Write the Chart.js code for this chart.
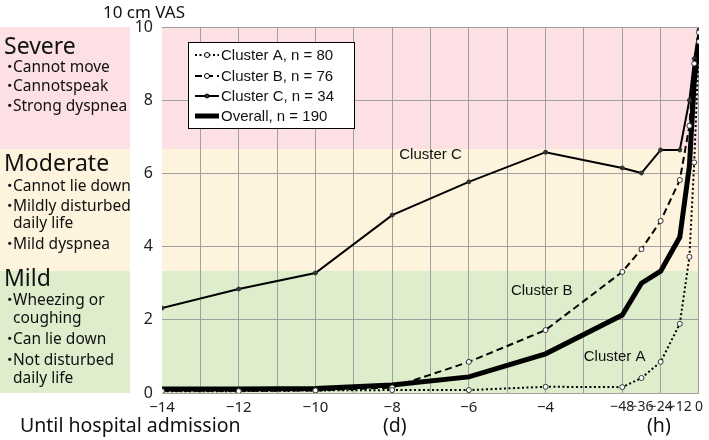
<!DOCTYPE html>
<html>
<head>
<meta charset="utf-8">
<script src="https://cdn.jsdelivr.net/npm/chart.js@4/dist/chart.umd.min.js"></script>
<style>
  html, body { margin: 0; padding: 0; background: #fff; }
  #wrap { position: relative; width: 709px; height: 440px; overflow: hidden; }
  #c { position: absolute; left: 0; top: 0; }
  .t { position: absolute; white-space: nowrap; font-family: "Noto Sans", "Noto Sans CJK JP", sans-serif; color: #111; line-height: 1; }
  .h { font-size: 23px; }
  .i { font-size: 15.5px; }
  .ax { font-size: 17px; }
  .ax2 { font-size: 19.5px; }
  .dot { font-family: "Noto Sans CJK JP", sans-serif; display: inline-block; width: 11px; margin-left: -3px; }
</style>
</head>
<body>
<div id="wrap">
  <canvas id="c" width="709" height="440"></canvas>
</div>
<script>
// ---- data ----
const xDays = [-14, -12, -10, -8, -6, -4];          // days before admission
const xHours = [-48, -36, -24, -12, -6, -3, 0];     // hours before admission
const clusterA = [0.05, 0.05, 0.07, 0.08, 0.08, 0.17, 0.16, 0.41, 0.85, 1.89, 3.72, 6.3, 9.6];
const clusterB = [0.06, 0.06, 0.07, 0.15, 0.85, 1.72, 3.31, 3.93, 4.70, 5.82, 7.3, 9.0, 9.85];
const clusterC = [2.32, 2.84, 3.28, 4.86, 5.77, 6.58, 6.15, 6.01, 6.64, 6.64, 8.0, 9.13, 9.92];
const overall  = [0.11, 0.11, 0.12, 0.22, 0.44, 1.07, 2.13, 3.0, 3.33, 4.26, 6.2, 8.5, 9.7];
const seriesNames = ["Cluster A, n = 80", "Cluster B, n = 76", "Cluster C, n = 34", "Overall, n = 190"];
const dayTickLabels = [-14, -12, -10, -8, -6, -4];
const hourTickLabels = [-48, -36, -24, -12, 0];
const yTicks = [0, 2, 4, 6, 8, 10];
const bandEdges = [0, 10/3, 20/3, 10];
const bandColors = ["#deedcc", "#fef3dc", "#fde0e4"];
const panelText = [
  { head: "Severe", items: [["Cannot move"], ["Cannotspeak"], ["Strong dyspnea"]] },
  { head: "Moderate", items: [["Cannot lie down"], ["Mildly disturbed", "daily life"], ["Mild dyspnea"]] },
  { head: "Mild", items: [["Wheezing or", "coughing"], ["Can lie down"], ["Not  disturbed", "daily life"]] }
];

// x positions in days (hours converted)
const xPos = xDays.concat(xHours.map(h => h / 24));
const toPts = arr => arr.map((v, i) => ({ x: xPos[i], y: v }));

// ---- left panel html ----
const wrap = document.getElementById('wrap');
function addText(txt, cls, left, top) {
  const d = document.createElement('div');
  d.className = 't ' + cls;
  d.style.left = left + 'px';
  d.style.top = top + 'px';
  d.innerHTML = txt;
  wrap.appendChild(d);
}
const headTops = [34, 151, 266];
const lineTops = [[58, 77, 97], [177, 197, 215, 235], [291, 310, 330, 351, 370]];
panelText.forEach((sec, si) => {
  addText(sec.head, 'h', 4, headTops[si]);
  let li = 0;
  sec.items.forEach(it => {
    it.forEach((ln, k) => {
      const txt = (k === 0 ? '<span class="dot">・</span>' : '<span class="dot"></span>') + ln;
      addText(txt, 'i', 5, lineTops[si][li]);
      li++;
    });
  });
});
addText("10 cm VAS", 'ax', 103, 3);
addText("Until hospital admission", 'ax2', 20, 415);
addText("(d)", 'ax2', 383, 415);
addText("(h)", 'ax2', 647, 415);

// ---- plugins ----
const bgPlugin = {
  id: 'bands',
  beforeDraw(chart) {
    const { ctx, chartArea: a, scales: { y } } = chart;
    ctx.save();
    ctx.fillStyle = '#fff';
    ctx.fillRect(0, 0, chart.width, chart.height);
    for (let i = 0; i < 3; i++) {
      const y0 = y.getPixelForValue(bandEdges[i]);
      const y1 = y.getPixelForValue(bandEdges[i + 1]);
      ctx.fillStyle = bandColors[i];
      ctx.fillRect(a.left, y1, a.right - a.left, y0 - y1);
      ctx.fillRect(0, y1, 130, y0 - y1);
    }
    ctx.restore();
  },
  afterDraw(chart) {
    const { ctx, scales: { x, y } } = chart;
    ctx.save();
    ctx.font = '15px "Liberation Sans", Arial, sans-serif';
    ctx.fillStyle = '#111';
    ctx.textBaseline = 'middle';
    ctx.textAlign = 'center';
    ctx.fillText('Cluster C', x.getPixelForValue(-7.0), y.getPixelForValue(6.5));
    ctx.fillText('Cluster B', x.getPixelForValue(-4.1), y.getPixelForValue(2.8));
    ctx.fillText('Cluster A', x.getPixelForValue(-2.2), y.getPixelForValue(0.98));
    // legend
    const lx = 188, ly = 42, lw = 166, lh = 86;
    ctx.fillStyle = '#fff';
    ctx.fillRect(lx, ly, lw, lh);
    ctx.strokeStyle = '#000';
    ctx.lineWidth = 1;
    ctx.strokeRect(lx + 0.5, ly + 0.5, lw, lh);
    const rows = [55, 76, 96, 116];
    chart.data.datasets.forEach((ds, i) => {
      const ry = rows[i];
      ctx.save();
      ctx.strokeStyle = '#000';
      ctx.lineWidth = ds.borderWidth;
      ctx.setLineDash(ds.borderDash || []);
      ctx.beginPath();
      ctx.moveTo(195, ry);
      ctx.lineTo(219, ry);
      ctx.stroke();
      ctx.setLineDash([]);
      if (ds.pointRadius > 0) {
        ctx.beginPath();
        ctx.arc(207, ry, ds.pointRadius, 0, Math.PI * 2);
        ctx.fillStyle = ds.pointBackgroundColor;
        ctx.fill();
        ctx.lineWidth = 1;
        ctx.stroke();
      }
      ctx.restore();
      ctx.fillStyle = '#111';
      ctx.textAlign = 'left';
      ctx.fillText(ds.label, 221, ry + 1);
    });
    ctx.restore();
  }
};

const tickVals = [];
for (let d = -14; d <= 0; d++) tickVals.push(d);
tickVals.push(-1.5, -0.5);
tickVals.sort((a, b) => a - b);

function xLabel(v) {
  if (dayTickLabels.includes(v)) return '\u2212' + Math.abs(v);
  if (v >= -2) {
    const h = Math.round(v * 24);
    if (hourTickLabels.includes(h)) return h === 0 ? '0' : '\u2212' + Math.abs(h);
  }
  return '';
}

new Chart(document.getElementById('c'), {
  type: 'line',
  data: {
    datasets: [
      { label: seriesNames[0], data: toPts(clusterA), borderColor: '#000', borderWidth: 2, borderDash: [2, 2.5],
        pointRadius: 2.5, pointBackgroundColor: '#fff', pointBorderColor: '#333', pointBorderWidth: 1 },
      { label: seriesNames[1], data: toPts(clusterB), borderColor: '#000', borderWidth: 2, borderDash: [7, 4],
        pointRadius: 2.5, pointBackgroundColor: '#fff', pointBorderColor: '#333', pointBorderWidth: 1 },
      { label: seriesNames[2], data: toPts(clusterC), borderColor: '#000', borderWidth: 2,
        pointRadius: 2, pointBackgroundColor: '#333', pointBorderColor: '#333', pointBorderWidth: 1 },
      { label: seriesNames[3], data: toPts(overall), borderColor: '#000', borderWidth: 5,
        pointRadius: 0, pointBackgroundColor: '#000' }
    ]
  },
  options: {
    responsive: false,
    animation: false,
    layout: { padding: { left: 0, top: 27, right: 4, bottom: 0 } },
    plugins: { legend: { display: false }, tooltip: { enabled: false } },
    scales: {
      x: {
        type: 'linear', min: -14, max: 0,
        afterBuildTicks: s => { s.ticks = tickVals.map(v => ({ value: v })); },
        afterFit: s => { s.height = 47; },
        grid: {
          drawTicks: false,
          color: c => (c.tick && Number.isInteger(c.tick.value) && c.tick.value !== -14) ? '#a0a0a0' : 'rgba(0,0,0,0)'
        },
        border: { display: false },
        ticks: {
          autoSkip: false, maxRotation: 0, padding: 6,
          color: '#222',
          font: c => (c.tick && c.tick.value > -3)
            ? { family: '"Liberation Sans Narrow", "Noto Sans", sans-serif', size: 14 }
            : { family: '"Noto Sans", sans-serif', size: 15 },
          callback: v => xLabel(v)
        }
      },
      y: {
        min: 0, max: 10,
        afterBuildTicks: s => { s.ticks = yTicks.map(v => ({ value: v })); },
        afterFit: s => { s.width = 162; },
        grid: { drawTicks: false, color: '#a0a0a0' },
        border: { display: false },
        ticks: { padding: 9, color: '#222', font: { family: '"Noto Sans", sans-serif', size: 16 } }
      }
    }
  },
  plugins: [bgPlugin]
});
</script>
</body>
</html>
